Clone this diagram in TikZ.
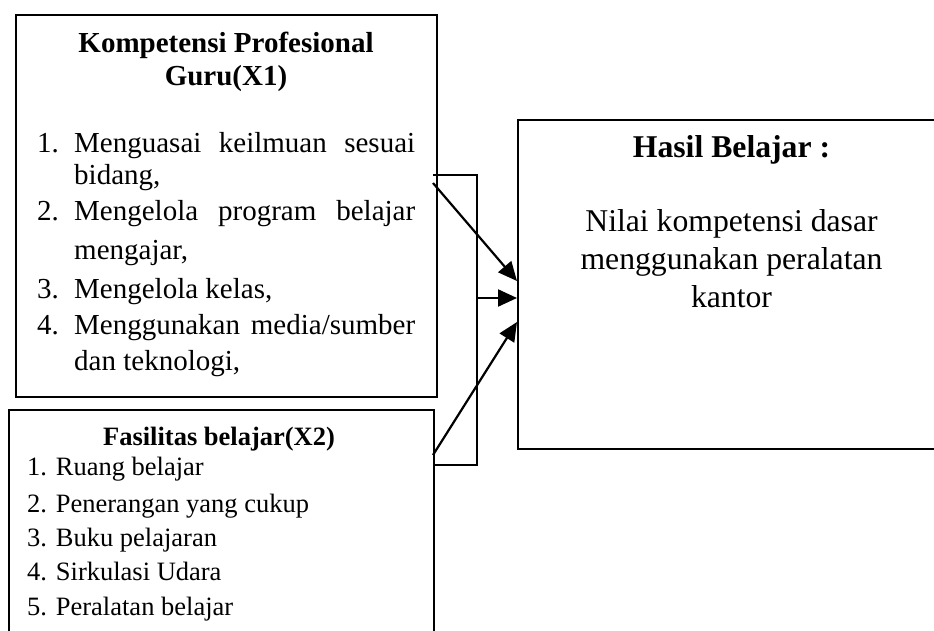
\documentclass[tikz,border=0pt]{standalone}
\usepackage{fontspec}
\setmainfont{Liberation Serif}
\usetikzlibrary{arrows.meta}
\tikzset{
  frame/.style={draw=black, line width=2pt, inner sep=0pt, anchor=north west},
  txt/.style={inner sep=0pt, anchor=base west},
  ctxt/.style={inner sep=0pt, anchor=base},
  bigf/.style={font=\fontsize{29}{33}\selectfont},
  midf/.style={font=\fontsize{26.5}{30}\selectfont},
  hugef/.style={font=\fontsize{31.7}{36}\selectfont},
  bracket/.style={line width=1.4pt},
  arr/.style={line width=2.2pt, -{Triangle[length=19pt,width=17pt]}}
}
\begin{document}
\begin{tikzpicture}[x=1pt,y=-1pt]
\path[use as bounding box, clip] (0,0) rectangle (934,631);
\fill[white] (0,0) rectangle (934,631);

% boxes
\node[frame, minimum width=421pt, minimum height=382pt] (kbox) at (15,14) {};
\node[frame, minimum width=425pt, minimum height=300pt] (fbox) at (8,409) {};
\node[frame, minimum width=450pt, minimum height=329pt] (hbox) at (517,119) {};

% top box text
\node[ctxt, bigf] (kt1) at (226,53) {\bfseries Kompetensi Profesional};
\node[ctxt, bigf] (kt2) at (226,86) {\bfseries Guru(X1)};
\node[txt, bigf] (n1) at (37,153) {1.};
\node[txt, bigf] (i1) at (74,153) {\makebox[341pt][s]{Menguasai keilmuan sesuai}};
\node[txt, bigf] (i1b) at (74,185) {bidang,};
\node[txt, bigf] (n2) at (37,220) {2.};
\node[txt, bigf] (i2) at (74,220) {\makebox[341pt][s]{Mengelola program belajar}};
\node[txt, bigf] (i2b) at (74,259) {mengajar,};
\node[txt, bigf] (n3) at (37,298) {3.};
\node[txt, bigf] (i3) at (74,298) {Mengelola kelas,};
\node[txt, bigf] (n4) at (37,334) {4.};
\node[txt, bigf] (i4) at (74,334) {\makebox[341pt][s]{Menggunakan media/sumber}};
\node[txt, bigf] (i4b) at (74,370) {dan teknologi,};

% bottom box text
\node[ctxt, midf] (ft) at (219,445) {\bfseries Fasilitas belajar(X2)};
\node[txt, midf] (f1) at (27,475) {1. Ruang belajar};
\node[txt, midf] (f2) at (27,512) {2. Penerangan yang cukup};
\node[txt, midf] (f3) at (27,546) {3. Buku pelajaran};
\node[txt, midf] (f4) at (27,580) {4. Sirkulasi Udara};
\node[txt, midf] (f5) at (27,615) {5. Peralatan belajar};

% right box text
\node[ctxt, hugef] (ht) at (731.5,158) {\bfseries Hasil Belajar :};
\node[ctxt, hugef] (h1) at (731.5,232) {Nilai kompetensi dasar};
\node[ctxt, hugef] (h2) at (731.5,269) {menggunakan peralatan};
\node[ctxt, hugef] (h3) at (731.5,307) {kantor};

% bracket
\coordinate (bt) at (433,175);
\coordinate (btr) at (477,175);
\coordinate (bbr) at (477,465);
\coordinate (bb) at (433,465);
\coordinate (bm) at (477,298);
\draw[bracket] (bt) -- (btr) -- (bbr) -- (bb);

% arrows
\coordinate (a1s) at (433,183);
\coordinate (a3s) at (433,455);
\draw[arr] (a1s) -- (hbox.west |- 0,281);
\draw[arr] (bm) -- (hbox.west |- bm);
\draw[arr] (a3s) -- (hbox.west |- 0,322);
\end{tikzpicture}
\end{document}
